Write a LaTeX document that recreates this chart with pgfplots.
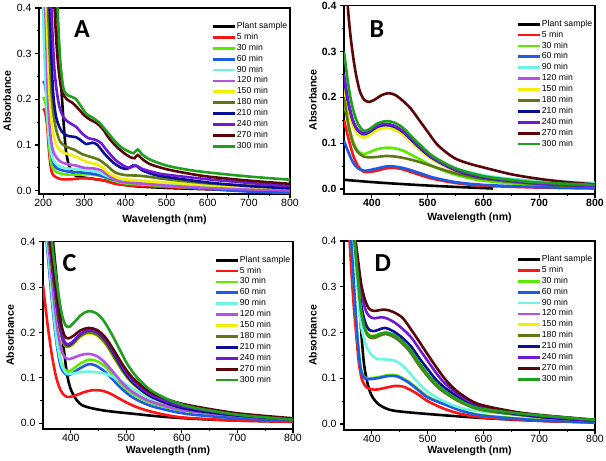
\documentclass[border=0pt]{standalone}
\usepackage{fontspec}
\setmainfont{Liberation Sans}
\newfontfamily\carlito{Carlito}
\usepackage{pgfplots}
\pgfplotsset{compat=1.18}
\definecolor{c0}{RGB}{0,0,0}
\definecolor{c1}{RGB}{255,20,20}
\definecolor{c2}{RGB}{90,235,0}
\definecolor{c3}{RGB}{30,90,230}
\definecolor{c4}{RGB}{110,245,225}
\definecolor{c5}{RGB}{180,80,230}
\definecolor{c6}{RGB}{240,240,0}
\definecolor{c7}{RGB}{95,120,20}
\definecolor{c8}{RGB}{10,15,150}
\definecolor{c9}{RGB}{110,25,215}
\definecolor{c10}{RGB}{90,5,10}
\definecolor{c11}{RGB}{30,160,30}
\tikzset{letter/.style={font=\carlito\bfseries\fontsize{26}{26}\selectfont}}
\pgfplotsset{
 panel/.style={
  scale only axis, anchor=south west, xmax=800, ymax=0.4,
  ytick={0,0.1,0.2,0.3,0.4},
  minor x tick num=1, minor y tick num=1,
  tick align=outside, tick pos=left,
  axis line style={line width=1.3pt},
  every tick/.append style={line width=1.1pt, black},
  major tick length=4pt, minor tick length=2.5pt,
  /pgf/number format/assume math mode=true,
  yticklabel style={/pgf/number format/.cd, fixed, fixed zerofill, precision=1},
  xticklabel style={inner sep=1pt, /pgf/number format/.cd, fixed, 1000 sep={}},
  tick label style={font=\fontsize{10.5}{12}\selectfont},
  label style={font=\bfseries\fontsize{10.5}{12}\selectfont},
  xlabel={Wavelength (nm)}, ylabel={Absorbance},
  every axis plot/.append style={line width=2.6pt, smooth},
  legend entries={Plant sample,5 min,30 min,60 min,90 min,120 min,150 min,180 min,210 min,240 min,270 min,300 min},
  legend cell align=left,
  legend image code/.code={\draw[#1, line width=2.8pt] (0pt,0pt) -- (22pt,0pt);},
  legend style={draw=none, fill=none, at={(1,1)}, anchor=north east, xshift=-2pt, yshift=-13.5pt,
    font=\fontsize{8.7}{9}\selectfont, row sep=1.4pt, inner sep=0pt,
    nodes={inner sep=0.6pt, text height=6.2pt, text depth=2.1pt}},
 }
}
\begin{document}
\begin{tikzpicture}
\path[use as bounding box] (0,0) rectangle (606pt,461pt);
% ---------------- Panel A ----------------
\begin{axis}[panel, at={(39pt,267pt)}, width=251pt, height=186pt, xmin=190, ymin=-0.0073,
  xtick={200,300,...,800},
  xlabel style={at={(axis description cs:0.5,-0.14)}, anchor=center},
  ylabel style={at={(axis description cs:-0.127,0.5)}, anchor=center}]
\addplot[c0] coordinates {(228,0.55)(234,0.4)(240,0.29)(246,0.2)(254,0.1)(260,0.065)(266,0.048)(275,0.035)(290,0.03)(320,0.026)(350,0.022)(380,0.016)(420,0.01)(500,0.006)(600,0.003)(700,0.0)(800,-0.003)};
\addplot[c1] coordinates {(200,0.18)(205,0.172)(210,0.14)(214,0.09)(218,0.055)(222,0.038)(230,0.03)(245,0.025)(270,0.025)(290,0.027)(310,0.027)(330,0.025)(350,0.022)(370,0.016)(390,0.013)(420,0.011)(500,0.008)(600,0.004)(700,0.001)(800,-0.002)};
\addplot[c2] coordinates {(200,0.205)(205,0.195)(210,0.16)(214,0.11)(218,0.07)(223,0.05)(230,0.042)(250,0.036)(280,0.035)(310,0.036)(340,0.032)(370,0.022)(400,0.016)(450,0.013)(500,0.01)(600,0.005)(700,0.003)(800,0.001)};
\addplot[c3] coordinates {(200,0.24)(205,0.23)(210,0.19)(215,0.13)(220,0.08)(226,0.058)(235,0.048)(260,0.042)(290,0.04)(320,0.037)(340,0.033)(370,0.025)(400,0.022)(420,0.02)(450,0.017)(500,0.012)(600,0.004)(700,-0.002)(800,-0.005)};
\addplot[c4] coordinates {(198,0.45)(203,0.3)(208,0.2)(214,0.12)(220,0.08)(230,0.06)(250,0.05)(280,0.047)(310,0.045)(335,0.04)(360,0.03)(390,0.024)(420,0.021)(450,0.018)(500,0.015)(600,0.01)(700,0.007)(800,0.005)};
\addplot[c5] coordinates {(203,0.45)(207,0.35)(212,0.2)(218,0.12)(225,0.085)(240,0.065)(260,0.058)(280,0.055)(300,0.05)(320,0.049)(340,0.045)(360,0.032)(380,0.022)(400,0.018)(450,0.015)(500,0.011)(600,0.006)(700,0.003)(800,0.001)};
\addplot[c6] coordinates {(206,0.45)(210,0.35)(215,0.22)(222,0.14)(232,0.1)(250,0.083)(270,0.078)(290,0.07)(310,0.062)(330,0.058)(345,0.05)(365,0.035)(390,0.026)(420,0.023)(460,0.02)(500,0.018)(600,0.012)(700,0.008)(800,0.005)};
\addplot[c7] coordinates {(210,0.45)(214,0.35)(220,0.22)(228,0.15)(240,0.11)(255,0.097)(275,0.09)(295,0.08)(315,0.074)(335,0.068)(355,0.055)(375,0.04)(400,0.034)(430,0.033)(460,0.03)(500,0.025)(600,0.016)(700,0.011)(800,0.008)};
\addplot[c8] coordinates {(214,0.45)(218,0.35)(224,0.22)(232,0.16)(245,0.13)(260,0.12)(280,0.117)(295,0.108)(305,0.102)(320,0.105)(332,0.1)(350,0.08)(370,0.062)(390,0.05)(405,0.048)(418,0.055)(428,0.054)(440,0.045)(470,0.035)(500,0.03)(600,0.018)(700,0.01)(800,0.005)};
\addplot[c9] coordinates {(218,0.45)(222,0.36)(228,0.26)(238,0.19)(250,0.16)(265,0.148)(280,0.14)(295,0.125)(310,0.115)(325,0.112)(340,0.105)(355,0.088)(375,0.068)(395,0.055)(410,0.05)(425,0.055)(440,0.048)(470,0.04)(500,0.035)(600,0.025)(700,0.017)(800,0.01)};
\addplot[c10] coordinates {(226,0.45)(230,0.36)(236,0.28)(245,0.22)(258,0.2)(272,0.192)(285,0.18)(300,0.165)(315,0.155)(330,0.148)(345,0.135)(360,0.115)(380,0.095)(400,0.08)(415,0.072)(422,0.071)(430,0.078)(440,0.07)(460,0.058)(500,0.047)(550,0.038)(600,0.031)(700,0.022)(800,0.015)};
\addplot[c11] coordinates {(233,0.45)(237,0.36)(242,0.28)(250,0.222)(262,0.208)(278,0.202)(292,0.185)(305,0.168)(320,0.16)(335,0.15)(350,0.135)(370,0.113)(390,0.095)(410,0.085)(420,0.082)(430,0.09)(440,0.08)(460,0.068)(500,0.055)(550,0.046)(600,0.04)(700,0.031)(800,0.024)};
\node[letter] at (rel axis cs:0.171,0.887) {A};
\end{axis}
% ---------------- Panel B ----------------
\begin{axis}[panel, at={(344pt,267pt)}, width=251pt, height=188.3pt, xmin=350, ymin=-0.011,
  xtick={400,500,...,800},
  tick label style={font=\bfseries\fontsize{10.5}{12}\selectfont},
  xlabel style={at={(axis description cs:0.5,-0.128)}, anchor=center},
  ylabel style={at={(axis description cs:-0.124,0.5)}, anchor=center}]
\addplot[c0] coordinates {(350,0.02)(400,0.015)(450,0.011)(500,0.0075)(550,0.0045)(617,0.001)};
\addplot[c1] coordinates {(350,0.15)(358,0.11)(366,0.075)(375,0.05)(385,0.038)(395,0.037)(410,0.04)(425,0.045)(440,0.046)(455,0.043)(470,0.037)(490,0.029)(510,0.022)(550,0.013)(600,0.007)(700,0.003)(800,0.001)};
\addplot[c2] coordinates {(350,0.19)(358,0.14)(366,0.105)(375,0.083)(385,0.076)(395,0.08)(410,0.087)(425,0.09)(440,0.089)(455,0.084)(470,0.075)(490,0.062)(510,0.049)(550,0.031)(600,0.018)(700,0.008)(800,0.004)};
\addplot[c3] coordinates {(350,0.105)(358,0.08)(366,0.058)(375,0.045)(385,0.04)(395,0.041)(410,0.045)(425,0.049)(440,0.049)(455,0.046)(470,0.041)(490,0.033)(510,0.025)(550,0.015)(600,0.009)(700,0.004)(800,0.002)};
\addplot[c4] coordinates {(350,0.25)(358,0.19)(366,0.15)(375,0.125)(385,0.115)(395,0.12)(410,0.13)(425,0.134)(440,0.13)(455,0.12)(470,0.105)(490,0.085)(510,0.068)(550,0.045)(600,0.03)(650,0.022)(700,0.018)(800,0.013)};
\addplot[c5] coordinates {(350,0.23)(358,0.175)(366,0.14)(375,0.12)(385,0.113)(395,0.118)(410,0.13)(425,0.135)(440,0.131)(455,0.12)(470,0.104)(490,0.082)(510,0.064)(550,0.04)(600,0.025)(700,0.012)(800,0.007)};
\addplot[c6] coordinates {(350,0.22)(358,0.17)(366,0.138)(375,0.119)(385,0.112)(395,0.117)(410,0.129)(425,0.134)(440,0.13)(455,0.119)(470,0.103)(490,0.081)(510,0.063)(550,0.04)(600,0.024)(700,0.012)(800,0.007)};
\addplot[c7] coordinates {(350,0.2)(358,0.14)(366,0.1)(375,0.08)(385,0.071)(395,0.069)(410,0.07)(425,0.072)(440,0.071)(455,0.068)(470,0.064)(490,0.057)(510,0.049)(550,0.034)(600,0.022)(700,0.01)(800,0.005)};
\addplot[c8] coordinates {(350,0.24)(358,0.185)(366,0.148)(375,0.127)(385,0.12)(395,0.124)(410,0.136)(425,0.14)(440,0.136)(455,0.125)(470,0.108)(490,0.085)(510,0.066)(550,0.041)(600,0.025)(700,0.012)(800,0.007)};
\addplot[c9] coordinates {(350,0.25)(358,0.19)(366,0.15)(375,0.129)(385,0.121)(395,0.126)(410,0.138)(425,0.142)(440,0.138)(455,0.127)(470,0.11)(490,0.087)(510,0.067)(550,0.042)(600,0.026)(700,0.012)(800,0.007)};
\addplot[c10] coordinates {(354,0.45)(358,0.38)(363,0.32)(370,0.26)(378,0.215)(386,0.195)(395,0.19)(405,0.195)(418,0.205)(430,0.209)(442,0.205)(455,0.193)(470,0.175)(485,0.15)(500,0.125)(515,0.1)(530,0.083)(550,0.066)(575,0.055)(600,0.047)(650,0.032)(700,0.022)(750,0.015)(800,0.01)};
\addplot[c11] coordinates {(350,0.3)(358,0.225)(366,0.175)(375,0.142)(385,0.127)(395,0.13)(410,0.143)(425,0.148)(440,0.145)(455,0.134)(470,0.116)(490,0.092)(510,0.071)(550,0.045)(600,0.028)(650,0.02)(700,0.014)(800,0.009)};
\node[letter] at (rel axis cs:0.131,0.876) {B};
\end{axis}
% ---------------- Panel C ----------------
\begin{axis}[panel, at={(43pt,32pt)}, width=250pt, height=187.3pt, xmin=350, ymin=-0.0126,
  xtick={400,500,...,800},
  xlabel style={at={(axis description cs:0.5,-0.117)}, anchor=center},
  ylabel style={at={(axis description cs:-0.132,0.5)}, anchor=center}]
\addplot[c0] coordinates {(362,0.45)(368,0.4)(376,0.3)(385,0.19)(393,0.11)(400,0.075)(410,0.052)(420,0.04)(435,0.034)(455,0.029)(480,0.025)(520,0.02)(560,0.015)(620,0.01)(700,0.006)(800,0.004)};
\addplot[c1] coordinates {(350,0.305)(358,0.22)(366,0.15)(374,0.1)(382,0.072)(390,0.06)(398,0.058)(410,0.062)(425,0.069)(440,0.073)(455,0.072)(470,0.066)(485,0.056)(500,0.046)(520,0.035)(550,0.024)(600,0.013)(700,0.006)(800,0.003)};
\addplot[c2] coordinates {(354,0.45)(360,0.38)(368,0.27)(376,0.18)(384,0.13)(392,0.115)(400,0.116)(415,0.13)(432,0.14)(445,0.138)(460,0.127)(475,0.108)(490,0.087)(510,0.066)(540,0.047)(580,0.033)(620,0.025)(700,0.015)(800,0.008)};
\addplot[c3] coordinates {(352,0.45)(358,0.38)(366,0.27)(374,0.18)(382,0.125)(392,0.107)(400,0.108)(415,0.12)(432,0.13)(445,0.127)(460,0.115)(475,0.097)(490,0.078)(510,0.058)(540,0.04)(580,0.027)(620,0.019)(700,0.011)(800,0.005)};
\addplot[c4] coordinates {(353,0.45)(359,0.38)(367,0.27)(375,0.18)(383,0.13)(392,0.11)(400,0.109)(415,0.112)(432,0.114)(450,0.112)(465,0.108)(480,0.1)(500,0.085)(520,0.07)(550,0.052)(600,0.033)(700,0.017)(800,0.009)};
\addplot[c5] coordinates {(355,0.45)(361,0.38)(369,0.28)(377,0.2)(385,0.155)(393,0.142)(402,0.143)(417,0.15)(432,0.153)(447,0.148)(462,0.133)(477,0.112)(492,0.09)(510,0.07)(540,0.05)(580,0.035)(620,0.026)(700,0.016)(800,0.008)};
\addplot[c6] coordinates {(356,0.45)(362,0.39)(370,0.3)(378,0.22)(386,0.18)(393,0.168)(402,0.172)(417,0.19)(432,0.198)(447,0.193)(462,0.175)(477,0.146)(492,0.117)(510,0.089)(540,0.061)(580,0.041)(620,0.03)(700,0.018)(800,0.009)};
\addplot[c7] coordinates {(356,0.45)(362,0.39)(370,0.3)(378,0.222)(386,0.181)(393,0.169)(402,0.173)(417,0.192)(432,0.2)(447,0.195)(462,0.177)(477,0.148)(492,0.118)(510,0.09)(540,0.062)(580,0.041)(620,0.03)(700,0.018)(800,0.009)};
\addplot[c8] coordinates {(357,0.45)(363,0.39)(371,0.3)(379,0.225)(387,0.183)(394,0.173)(403,0.178)(418,0.197)(433,0.205)(448,0.2)(463,0.182)(478,0.152)(493,0.121)(510,0.092)(540,0.062)(580,0.041)(620,0.029)(700,0.017)(800,0.008)};
\addplot[c9] coordinates {(357,0.45)(363,0.39)(371,0.3)(379,0.226)(387,0.184)(394,0.174)(403,0.179)(418,0.198)(433,0.205)(448,0.201)(463,0.184)(478,0.155)(493,0.125)(510,0.096)(540,0.066)(580,0.045)(620,0.033)(700,0.019)(800,0.009)};
\addplot[c10] coordinates {(358,0.45)(364,0.39)(372,0.31)(380,0.235)(388,0.195)(395,0.187)(404,0.192)(418,0.205)(433,0.21)(448,0.205)(463,0.188)(478,0.16)(493,0.13)(510,0.102)(540,0.071)(580,0.05)(620,0.038)(700,0.022)(800,0.011)};
\addplot[c11] coordinates {(362,0.45)(368,0.38)(376,0.3)(384,0.24)(391,0.215)(398,0.213)(408,0.225)(420,0.24)(432,0.247)(445,0.243)(458,0.228)(472,0.2)(487,0.165)(502,0.13)(520,0.1)(545,0.072)(580,0.05)(620,0.035)(700,0.019)(800,0.008)};
\node[letter] at (rel axis cs:0.106,0.888) {C};
\end{axis}
% ---------------- Panel D ----------------
\begin{axis}[panel, at={(344pt,31pt)}, width=251pt, height=189pt, xmin=350, ymin=-0.0131,
  xtick={400,500,...,800},
  xlabel style={at={(axis description cs:0.5,-0.111)}, anchor=center},
  ylabel style={at={(axis description cs:-0.124,0.5)}, anchor=center}]
\addplot[c0] coordinates {(366,0.45)(370,0.4)(376,0.3)(381,0.2)(386,0.13)(392,0.09)(398,0.066)(405,0.052)(411,0.044)(425,0.034)(440,0.029)(470,0.025)(530,0.019)(600,0.013)(700,0.007)(800,0.004)};
\addplot[c1] coordinates {(357,0.45)(360,0.4)(364,0.32)(368,0.25)(373,0.18)(377,0.13)(383,0.094)(392,0.079)(405,0.075)(420,0.078)(440,0.083)(455,0.082)(470,0.074)(485,0.063)(500,0.05)(530,0.033)(560,0.022)(600,0.014)(700,0.007)(800,0.003)};
\addplot[c2] coordinates {(360,0.45)(363,0.4)(368,0.3)(374,0.19)(380,0.122)(387,0.102)(395,0.1)(410,0.102)(430,0.107)(445,0.106)(460,0.097)(470,0.089)(485,0.074)(500,0.06)(515,0.051)(530,0.044)(560,0.03)(600,0.019)(700,0.009)(800,0.005)};
\addplot[c3] coordinates {(360,0.45)(363,0.4)(368,0.3)(374,0.19)(380,0.12)(387,0.1)(395,0.098)(410,0.1)(430,0.105)(445,0.104)(460,0.095)(470,0.087)(485,0.072)(500,0.058)(515,0.05)(530,0.043)(560,0.029)(600,0.018)(700,0.008)(800,0.004)};
\addplot[c4] coordinates {(365,0.45)(370,0.36)(375,0.29)(380,0.22)(386,0.185)(392,0.165)(400,0.15)(410,0.142)(425,0.141)(440,0.139)(455,0.128)(470,0.108)(485,0.088)(500,0.071)(515,0.059)(530,0.049)(560,0.035)(600,0.027)(650,0.022)(700,0.018)(800,0.01)};
\addplot[c5] coordinates {(366,0.45)(370,0.39)(375,0.32)(381,0.25)(388,0.21)(395,0.194)(404,0.192)(414,0.195)(425,0.197)(440,0.19)(455,0.176)(470,0.155)(485,0.128)(500,0.105)(515,0.085)(530,0.07)(560,0.048)(600,0.031)(700,0.016)(800,0.007)};
\addplot[c6] coordinates {(366,0.45)(370,0.39)(375,0.32)(381,0.25)(388,0.21)(395,0.195)(404,0.193)(414,0.196)(425,0.198)(440,0.191)(455,0.177)(470,0.156)(485,0.129)(500,0.106)(515,0.086)(530,0.071)(560,0.048)(600,0.031)(700,0.016)(800,0.007)};
\addplot[c7] coordinates {(366,0.45)(370,0.39)(375,0.32)(381,0.245)(388,0.205)(395,0.19)(404,0.188)(414,0.193)(425,0.197)(440,0.19)(455,0.176)(470,0.155)(485,0.128)(500,0.104)(515,0.084)(530,0.069)(560,0.047)(600,0.03)(700,0.015)(800,0.007)};
\addplot[c8] coordinates {(366,0.45)(370,0.39)(375,0.33)(381,0.26)(388,0.222)(395,0.206)(404,0.203)(414,0.207)(424,0.21)(438,0.203)(453,0.19)(470,0.17)(485,0.144)(500,0.12)(515,0.097)(530,0.08)(560,0.055)(600,0.034)(700,0.016)(800,0.007)};
\addplot[c9] coordinates {(366,0.45)(370,0.4)(375,0.35)(381,0.29)(388,0.252)(395,0.236)(404,0.231)(414,0.233)(424,0.232)(438,0.224)(453,0.21)(470,0.19)(485,0.164)(500,0.138)(515,0.112)(530,0.09)(560,0.06)(590,0.042)(650,0.026)(700,0.018)(800,0.007)};
\addplot[c10] coordinates {(366,0.45)(370,0.41)(375,0.36)(381,0.305)(388,0.27)(395,0.252)(404,0.247)(414,0.249)(424,0.25)(438,0.245)(455,0.232)(470,0.207)(485,0.18)(500,0.152)(515,0.125)(530,0.1)(545,0.08)(560,0.065)(590,0.044)(650,0.028)(700,0.02)(800,0.009)};
\addplot[c11] coordinates {(366,0.45)(370,0.39)(375,0.32)(381,0.245)(388,0.207)(395,0.193)(404,0.192)(414,0.197)(426,0.2)(440,0.194)(455,0.18)(470,0.16)(485,0.134)(500,0.109)(515,0.088)(530,0.072)(560,0.05)(590,0.035)(650,0.025)(700,0.019)(800,0.009)};
\node[letter] at (rel axis cs:0.155,0.884) {D};
\end{axis}
\end{tikzpicture}
\end{document}
